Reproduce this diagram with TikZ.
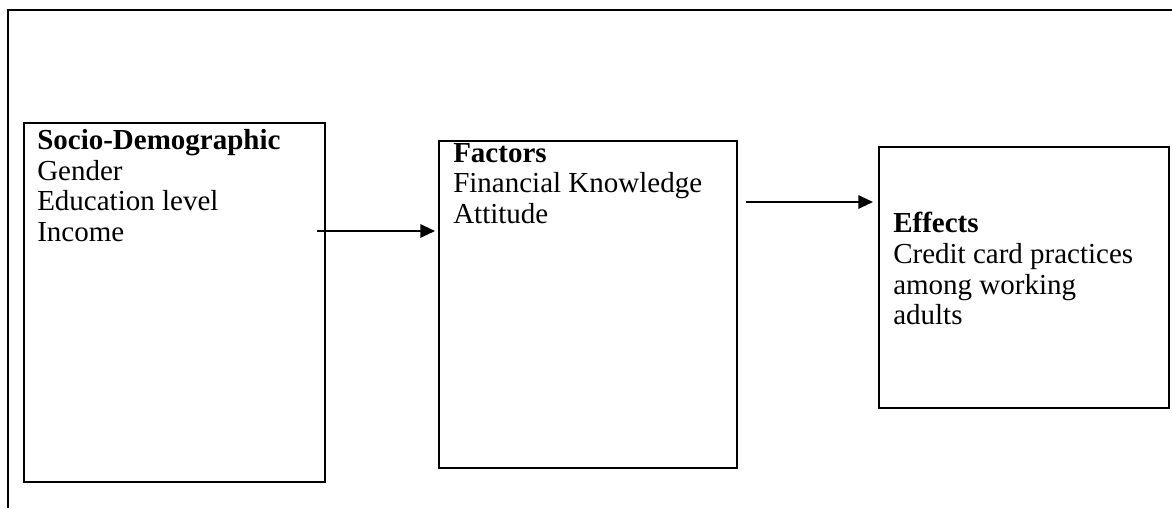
\documentclass[tikz,border=0pt]{standalone}
\usepackage{fontspec}
\setmainfont{Liberation Serif}
\usetikzlibrary{arrows.meta}
\begin{document}
\begin{tikzpicture}[x=0.75pt,y=-0.75pt,line join=miter,
	frameline/.style={line width=1.5pt},
	blockbox/.style={draw,line width=1.5pt,anchor=north west,inner sep=0pt},
	txt/.style={anchor=north west,inner sep=0pt,align=left,
		font=\fontsize{21.75pt}{23pt}\selectfont},
	arr/.style={line width=1.5pt,-{Triangle[length=11pt,width=10pt]}}]
			\useasboundingbox (0,0) rectangle (1172,508);
			\draw[frameline] (8,508) -- (8,10) -- (1172,10);
			% boxes
			\node[blockbox,minimum width=225.75pt,minimum height=269.25pt] (sd) at (23,122) {};
			\node[blockbox,minimum width=223.5pt,minimum height=245.25pt] (fac) at (438,140) {};
			\node[blockbox,minimum width=217.5pt,minimum height=195.75pt] (eff) at (878,146) {};
			% texts
			\node[txt] (sdtxt) at (37,129) {\textbf{Socio-Demographic}\\Gender\\Education level\\Income};
			\node[txt] (factxt) at (453,143) {\textbf{Factors}\\Financial Knowledge\\Attitude};
			\node[txt] (efftxt) at (893,212) {\textbf{Effects}\\Credit card practices\\among working\\adults};
			% arrows
			\coordinate (a1) at (317,231);
			\coordinate (b1) at (435,231);
			\coordinate (a2) at (746,202);
			\coordinate (b2) at (873,202);
			\draw[arr] (a1) -- (b1);
			\draw[arr] (a2) -- (b2);
			\end{tikzpicture}
\end{document}
